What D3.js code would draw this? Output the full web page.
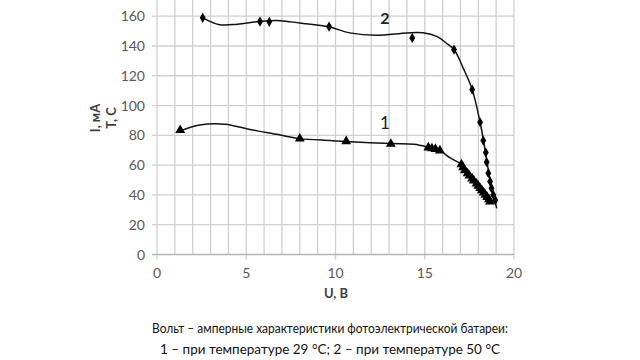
<!DOCTYPE html>
<html>
<head>
<meta charset="utf-8">
<script src="https://cdn.jsdelivr.net/npm/d3@7"></script>
<style>
  body { margin: 0; background: #fff; }
  svg { display: block; font-family: Lato, "Open Sans", sans-serif; }
</style>
</head>
<body>
<div id="chart"></div>
<script>
// кривая 1 (29 °C) - треугольники
var u1 = [1.3, 8.0, 10.6, 13.1, 15.2, 15.4, 15.6, 15.85, 17.05, 17.15, 17.25, 17.4, 17.5, 17.65, 17.75, 17.9, 18.0, 18.1, 18.2, 18.3, 18.4, 18.5, 18.6, 18.65];
var i1 = [83.5, 77.8, 76.0, 74.2, 71.8, 71.2, 70.8, 69.8, 60.5, 58.5, 56.5, 54.5, 53.0, 51.0, 49.5, 47.5, 46.0, 44.5, 43.0, 41.5, 40.0, 38.5, 37.0, 35.5];
// кривая 2 (50 °C) - ромбы
var u2 = [2.56, 5.77, 6.29, 9.64, 14.3, 16.64, 17.66, 18.1, 18.28, 18.42, 18.47, 18.56, 18.66, 18.74, 18.84, 18.95];
var i2 = [158.9, 156.4, 156.2, 153.0, 145.4, 137.6, 110.7, 88.8, 76.5, 68.5, 62.0, 54.6, 49.0, 44.5, 40.0, 36.5];

// линии тренда
var trendU1 = [1.3, 2.4, 3.8, 5.2, 6.8, 8.0, 9.7, 10.6, 13.1, 14.4, 15.2, 15.85, 16.4, 17.05, 17.9, 18.66];
var trendI1 = [83.0, 87.0, 87.5, 84.0, 80.5, 77.8, 76.5, 75.8, 74.5, 74.0, 72.0, 69.8, 65.0, 60.5, 47.5, 34.7];
var trendU2 = [2.56, 3.5, 4.5, 5.77, 6.9, 8.0, 9.64, 10.8, 12.3, 14.0, 14.9, 15.7, 16.2, 16.64, 17.16, 17.66, 18.1, 18.3, 18.5, 18.7, 18.9, 19.03];
var trendI2 = [158.9, 154.3, 154.6, 156.5, 157.0, 155.4, 152.8, 148.8, 147.2, 148.8, 148.9, 146.3, 142.0, 137.6, 125.0, 110.7, 88.8, 76.0, 61.0, 48.0, 38.0, 31.0];

var xTicks = [0, 5, 10, 15, 20];
var yTicks = [0, 20, 40, 60, 80, 100, 120, 140, 160];

var width = 640, height = 360;

var svg = d3.select("#chart").append("svg")
    .attr("width", width)
    .attr("height", height);

var x = d3.scaleLinear().domain([0, 20]).range([157, 514]);
var y = d3.scaleLinear().domain([0, 170]).range([254.5, 1.3]);

// сетка
svg.append("g")
    .selectAll("line")
    .data(d3.range(0, 21))
    .enter().append("line")
    .attr("x1", function(d) { return x(d); })
    .attr("x2", function(d) { return x(d); })
    .attr("y1", 0)
    .attr("y2", function(d) { return d % 5 === 0 ? y(0) + 5 : y(0); })
    .attr("stroke", "#cfcfcf")
    .attr("stroke-width", 1.3);

svg.append("g")
    .selectAll("line")
    .data(yTicks)
    .enter().append("line")
    .attr("x1", x(0) - 5)
    .attr("x2", x(20))
    .attr("y1", function(d) { return y(d); })
    .attr("y2", function(d) { return y(d); })
    .attr("stroke", function(d) { return d === 0 ? "#b5b5b5" : "#cfcfcf"; })
    .attr("stroke-width", 1.3);

// подписи осей
svg.append("g")
    .selectAll("text")
    .data(yTicks)
    .enter().append("text")
    .attr("x", 145)
    .attr("y", function(d) { return y(d) + 5; })
    .attr("text-anchor", "end")
    .attr("font-size", 14)
    .attr("fill", "#595959")
    .text(function(d) { return d; });

svg.append("g")
    .selectAll("text")
    .data(xTicks)
    .enter().append("text")
    .attr("x", function(d) { return x(d); })
    .attr("y", 278)
    .attr("text-anchor", "middle")
    .attr("font-size", 14)
    .attr("fill", "#595959")
    .text(function(d) { return d; });

svg.append("text")
    .attr("x", 336)
    .attr("y", 298)
    .attr("text-anchor", "middle")
    .attr("font-size", 13)
    .attr("font-weight", "bold")
    .attr("fill", "#404040")
    .text("U, В");

svg.append("text")
    .attr("transform", "translate(100,118) rotate(-90)")
    .attr("text-anchor", "middle")
    .attr("font-size", 13)
    .attr("font-weight", "bold")
    .attr("fill", "#404040")
    .text("I, мА");

svg.append("text")
    .attr("transform", "translate(116,118) rotate(-90)")
    .attr("text-anchor", "middle")
    .attr("font-size", 13)
    .attr("font-weight", "bold")
    .attr("fill", "#404040")
    .text("T, C");

// линии
var line = d3.line()
    .x(function(d) { return x(d[0]); })
    .y(function(d) { return y(d[1]); })
    .curve(d3.curveCatmullRom.alpha(0.5));

svg.append("path")
    .datum(d3.zip(trendU1, trendI1))
    .attr("d", line)
    .attr("fill", "none")
    .attr("stroke", "#111")
    .attr("stroke-width", 1.5);

svg.append("path")
    .datum(d3.zip(trendU2, trendI2))
    .attr("d", line)
    .attr("fill", "none")
    .attr("stroke", "#111")
    .attr("stroke-width", 1.5);

// маркеры
var tri = d3.symbol().type(d3.symbolTriangle).size(42);
var dia = d3.symbol().type(d3.symbolDiamond).size(30);

svg.append("g")
    .selectAll("path")
    .data(d3.zip(u1, i1))
    .enter().append("path")
    .attr("d", tri)
    .attr("transform", function(d) { return "translate(" + x(d[0]) + "," + y(d[1]) + ")"; })
    .attr("fill", "#000");

svg.append("g")
    .selectAll("path")
    .data(d3.zip(u2, i2))
    .enter().append("path")
    .attr("d", dia)
    .attr("transform", function(d) { return "translate(" + x(d[0]) + "," + y(d[1]) + ")"; })
    .attr("fill", "#000");

// номера кривых
svg.append("text")
    .attr("x", 385)
    .attr("y", 24)
    .attr("text-anchor", "middle")
    .attr("font-size", 16)
    .attr("font-weight", "bold")
    .attr("fill", "#222")
    .text("2");

svg.append("text")
    .attr("x", 385)
    .attr("y", 129)
    .attr("text-anchor", "middle")
    .attr("font-size", 17)
    .attr("fill", "#222")
    .text("1");

// подпись рисунка
svg.append("text")
    .attr("x", 330)
    .attr("y", 333)
    .attr("text-anchor", "middle")
    .attr("font-size", 14)
    .attr("textLength", 356)
    .attr("lengthAdjust", "spacingAndGlyphs")
    .attr("fill", "#111")
    .text("Вольт – амперные характеристики фотоэлектрической батареи:");

svg.append("text")
    .attr("x", 330)
    .attr("y", 354)
    .attr("text-anchor", "middle")
    .attr("font-size", 14)
    .attr("textLength", 340)
    .attr("lengthAdjust", "spacingAndGlyphs")
    .attr("fill", "#111")
    .text("1 – при температуре 29 °C; 2 – при температуре 50 °C");
</script>
</body>
</html>
